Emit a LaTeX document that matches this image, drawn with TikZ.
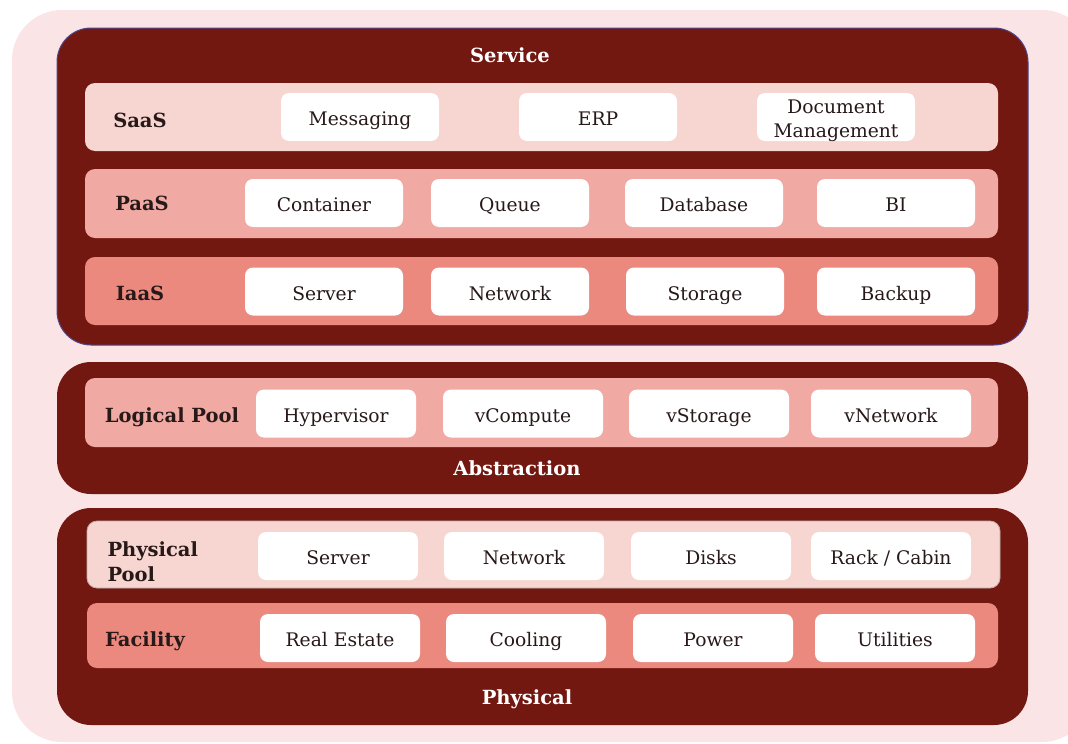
\documentclass[tikz,border=0pt]{standalone}
\usepackage{fontspec}
\setmainfont{DejaVu Serif}
\definecolor{bgpink}{RGB}{250,228,230}
\definecolor{darkred}{RGB}{115,24,17}
\definecolor{rowA}{RGB}{247,213,208}
\definecolor{rowB}{RGB}{240,170,163}
\definecolor{rowC}{RGB}{236,137,127}
\definecolor{borderblue}{RGB}{80,70,140}
\definecolor{txt}{RGB}{40,25,25}
\tikzset{
  bgbox/.style={fill=bgpink, rounded corners=50pt, inner sep=0pt},
  layer/.style={fill=darkred, rounded corners=34pt, inner sep=0pt},
  rowbox/.style={rounded corners=10pt, inner sep=0pt},
  cell/.style={fill=white, rounded corners=8pt, inner sep=0pt, minimum width=158pt, minimum height=48pt, font=\fontsize{18.7}{24}\selectfont, text=txt, align=center, text height=21pt, text depth=4pt},
  celltext/.style={inner sep=0pt, font=\fontsize{18.7}{24}\selectfont, text=txt, align=center},
  rowlabel/.style={font=\fontsize{19.5}{25}\selectfont\bfseries, text=txt, align=left},
  onelabel/.style={rowlabel, text height=20pt, text depth=4pt},
  layertitle/.style={font=\fontsize{19.5}{24}\selectfont\bfseries, text=white, text height=18pt, text depth=4pt}
}
\begin{document}
\begin{tikzpicture}[x=1pt,y=-1pt]
\useasboundingbox (0,0) rectangle (1068,744);
\node[bgbox, minimum width=1080pt, minimum height=732pt] (bg) at (552,376) {};
% layers
\node[layer, draw=borderblue, line width=1pt, minimum width=971pt, minimum height=317pt] (service) at (542.5,186.5) {};
\node[layer, minimum width=971pt, minimum height=132pt] (abstr) at (542.5,428) {};
\node[layer, minimum width=971pt, minimum height=217pt] (phys) at (542.5,616.5) {};
\node[layertitle] (serviceT) at (510,55) {Service};
\node[layertitle] (abstrT) at (517,468) {Abstraction};
\node[layertitle] (physT) at (527,697) {Physical};
% rows
\node[rowbox, fill=rowA, minimum width=913pt, minimum height=68pt] (saas) at (541.5,117) {};
\node[rowbox, fill=rowB, minimum width=913pt, minimum height=69pt] (paas) at (541.5,203.5) {};
\node[rowbox, fill=rowC, minimum width=913pt, minimum height=68pt] (iaas) at (541.5,291) {};
\node[rowbox, fill=rowB, minimum width=913pt, minimum height=69pt] (logical) at (541.5,412.5) {};
\node[rowbox, fill=rowA, draw=gray!60, line width=0.8pt, minimum width=913pt, minimum height=67pt] (ppool) at (543.5,554.5) {};
\node[rowbox, fill=rowC, minimum width=911pt, minimum height=65pt] (facility) at (542.5,635.5) {};
% row labels
\node[onelabel] (saasL) at (140,119) {SaaS};
\node[onelabel] (paasL) at (142,202) {PaaS};
\node[onelabel] (iaasL) at (140,292) {IaaS};
\node[onelabel] (logicalL) at (172,414) {Logical Pool};
\node[rowlabel, anchor=west] (ppoolL) at (104,562) {Physical\\Pool};
\node[onelabel] (facilityL) at (145,638) {Facility};
% SaaS
\node[cell] (msg) at (360,117) {Messaging};
\node[cell] (erp) at (598,117) {ERP};
\node[cell] (doc) at (836,117) {};
\node[celltext] (docT) at (836,121) {Document\\Management};
% PaaS
\node[cell] (cont) at (324,203) {Container};
\node[cell] (queue) at (510,203) {Queue};
\node[cell] (db) at (704,203) {Database};
\node[cell] (bi) at (896,203) {BI};
% IaaS
\node[cell] (srv) at (324,291.5) {Server};
\node[cell] (net) at (510,291.5) {Network};
\node[cell] (sto) at (705,291.5) {Storage};
\node[cell] (bak) at (896,291.5) {Backup};
% Logical pool
\node[cell, minimum width=160pt] (hyp) at (336,413.5) {Hypervisor};
\node[cell, minimum width=160pt] (vcomp) at (523,413.5) {vCompute};
\node[cell, minimum width=160pt] (vsto) at (709,413.5) {vStorage};
\node[cell, minimum width=160pt] (vnet) at (891,413.5) {vNetwork};
% Physical pool
\node[cell, minimum width=160pt] (psrv) at (338,556) {Server};
\node[cell, minimum width=160pt] (pnet) at (524,556) {Network};
\node[cell, minimum width=160pt] (disks) at (711,556) {Disks};
\node[cell, minimum width=160pt] (rack) at (891,556) {Rack / Cabin};
% Facility
\node[cell, minimum width=160pt] (re) at (340,638) {Real Estate};
\node[cell, minimum width=160pt] (cool) at (526,638) {Cooling};
\node[cell, minimum width=160pt] (pow) at (713,638) {Power};
\node[cell, minimum width=160pt] (util) at (895,638) {Utilities};
\end{tikzpicture}
\end{document}
